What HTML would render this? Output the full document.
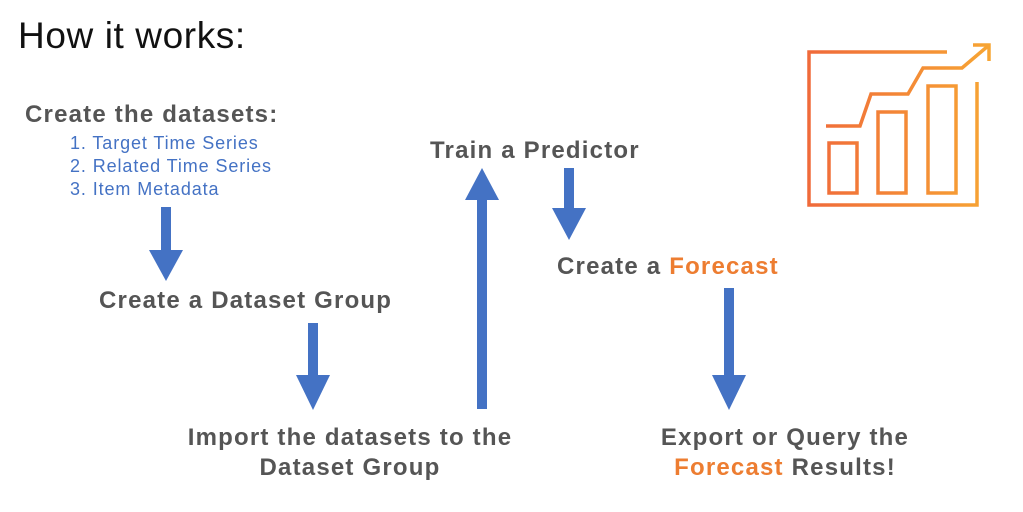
<!DOCTYPE html>
<html><head><style>
body{margin:0;width:1023px;height:512px;background:#fff;position:relative;overflow:hidden;font-family:"Liberation Sans",sans-serif}
.t{position:absolute;white-space:nowrap;font-weight:bold;color:#555;font-size:24px;line-height:30px;letter-spacing:1.2px}
.o{color:#ED7D31}
.l{position:absolute;white-space:nowrap;color:#4472C4;font-size:18px;line-height:23px;left:70px;letter-spacing:0.9px}
</style></head><body>
<div style="position:absolute;left:18px;top:15px;font-size:37px;color:#111;white-space:nowrap;letter-spacing:0.6px">How it works:</div>
<div class="t" style="left:25px;top:100px">Create the datasets:</div>
<div class="l" style="top:132px">1. Target Time Series</div>
<div class="l" style="top:155px">2. Related Time Series</div>
<div class="l" style="top:178px">3. Item Metadata</div>
<div class="t" style="left:430px;top:136px">Train a Predictor</div>
<div class="t" style="left:557px;top:252px">Create a <span class="o">Forecast</span></div>
<div class="t" style="left:99px;top:286px">Create a Dataset Group</div>
<div class="t" style="left:170px;top:423px;width:360px;text-align:center">Import the datasets to the<br>Dataset Group</div>
<div class="t" style="left:630px;top:423px;width:310px;text-align:center">Export or Query the<br><span class="o">Forecast</span> Results!</div>
<svg width="1023" height="512" style="position:absolute;left:0;top:0">
<defs><linearGradient id="g" gradientUnits="userSpaceOnUse" x1="809" x2="990" y1="0" y2="0"><stop offset="0" stop-color="#F06A3A"/><stop offset="1" stop-color="#F7A533"/></linearGradient></defs>
<g fill="#4472C4">
<rect x="161" y="207" width="10" height="44"/><polygon points="149,250 183,250 166,281"/>
<rect x="308" y="323" width="10" height="53"/><polygon points="296,375 330,375 313,410"/>
<rect x="477" y="199" width="10" height="210"/><polygon points="465,200 499,200 482,168"/>
<rect x="564" y="168" width="10" height="41"/><polygon points="552,208 586,208 569,240"/>
<rect x="724" y="288" width="10" height="88"/><polygon points="712,375 746,375 729,410"/>
</g>
<g fill="none" stroke="url(#g)" stroke-width="3.5">
<polyline points="947,52 809,52 809,205 977,205 977,82"/>
<rect x="829" y="143" width="28" height="50"/>
<rect x="878" y="112" width="28" height="81"/>
<rect x="928" y="86" width="28" height="107"/>
<polyline points="826,126 860,126 871,94 908,94 923,68 962,68 988,46"/>
<polyline points="973,45 989,45 989,61"/>
</g>
</svg>
</body></html>
